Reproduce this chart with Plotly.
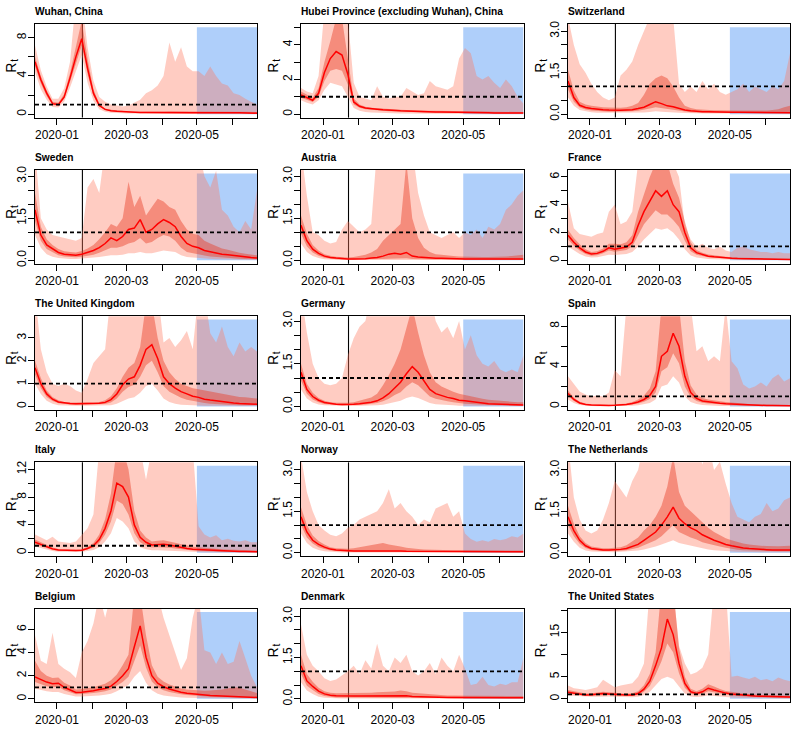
import plotly.graph_objects as go
import pandas as pd

W, H = 792, 733
DATES = pd.date_range("2019-12-13", "2020-06-22", periods=39)
X_START, X_END = "2019-12-13", "2020-06-22"
LOCKDOWN = "2020-01-23"
BLUE_START = "2020-05-01"
MONTH_TICKS = ["2020-01-01", "2020-03-01", "2020-05-01"]
MONTH_LABELS = ["2020-01", "2020-03", "2020-05"]
MONTH_MINOR = ["2020-02-01", "2020-04-01", "2020-06-01"]

TITLES = ["Wuhan, China", "Hubei Province (excluding Wuhan), China", "Switzerland",
          "Sweden", "Austria", "France",
          "The United Kingdom", "Germany", "Spain",
          "Italy", "Norway", "The Netherlands",
          "Belgium", "Denmark", "The United States"]

YMAX = [9.1, 5.0, 3.14, 3.1, 3.1, 6.25, 3.8, 3.05, 8.65, 12.5, 3.15, 3.15, 7.5, 3.15, 19.6]
# labelled ticks
YTICKS = [[0, 4, 8], [0, 2, 4], [0, 1.5, 3],
          [0, 1.5, 3], [0, 1.5, 3], [0, 2, 4, 6],
          [0, 1, 2, 3], [0, 1.5, 3], [0, 4, 8],
          [0, 4, 8, 12], [0, 1.5, 3], [0, 1.5, 3],
          [0, 2, 4, 6], [0, 1.5, 3], [0, 5, 15]]
YLABELS = [["0", "4", "8"], ["0", "2", "4"], ["0.0", "1.5", "3.0"],
           ["0.0", "1.5", "3.0"], ["0.0", "1.5", "3.0"], ["0", "2", "4", "6"],
           ["0", "1", "2", "3"], ["0.0", "1.5", "3.0"], ["0", "4", "8"],
           ["0", "4", "8", "12"], ["0.0", "1.5", "3.0"], ["0.0", "1.5", "3.0"],
           ["0", "2", "4", "6"], ["0.0", "1.5", "3.0"], ["0", "5", "15"]]
# unlabelled ticks
MINOR_30 = [0.5, 1, 2, 2.5]
YMINOR = [[2, 6], [1, 3, 5], MINOR_30,
          MINOR_30, MINOR_30, [1, 3, 5],
          [], MINOR_30, [2, 6],
          [2, 6, 10], MINOR_30, MINOR_30,
          [], MINOR_30, [10, 20]]

# ---------------- Wuhan ----------------
med_wuhan = [5.5, 3.6, 2.2, 1.1, 1.0, 1.8, 3.8, 6.0, 7.9, 4.8, 2.2, 0.9, 0.5, 0.35, 0.3, 0.25, 0.2, 0.18, 0.17, 0.16, 0.15, 0.15, 0.14, 0.14, 0.13, 0.14, 0.14, 0.15, 0.15, 0.16, 0.15, 0.15, 0.14, 0.14, 0.15, 0.14, 0.13, 0.12, 0.1]
lo50_wuhan = [5.0, 3.2, 1.9, 0.95, 0.9, 1.6, 3.4, 5.4, 7.2, 4.2, 1.9, 0.8, 0.43, 0.3, 0.25, 0.2, 0.16, 0.14, 0.13, 0.12, 0.11, 0.11, 0.1, 0.1, 0.1, 0.1, 0.1, 0.1, 0.1, 0.1, 0.1, 0.1, 0.09, 0.09, 0.09, 0.09, 0.08, 0.07, 0.06]
hi50_wuhan = [6.0, 4.0, 2.5, 1.3, 1.2, 2.1, 4.3, 7.0, 9.8, 5.8, 2.6, 1.1, 0.6, 0.45, 0.38, 0.32, 0.28, 0.26, 0.25, 0.25, 0.25, 0.26, 0.27, 0.3, 0.3, 0.32, 0.3, 0.3, 0.32, 0.33, 0.32, 0.3, 0.3, 0.3, 0.28, 0.26, 0.25, 0.24, 0.22]
lo95_wuhan = [4.4, 2.6, 1.5, 0.75, 0.7, 1.3, 2.8, 4.5, 6.2, 3.3, 1.4, 0.5, 0.25, 0.15, 0.1, 0.08, 0.07, 0.06, 0.05, 0.05, 0.05, 0.04, 0.04, 0.04, 0.04, 0.04, 0.04, 0.04, 0.04, 0.04, 0.04, 0.04, 0.04, 0.04, 0.04, 0.03, 0.03, 0.03, 0.03]
hi95_wuhan = [7.2, 4.6, 2.9, 1.6, 1.6, 2.7, 5.5, 12, 12, 7.0, 3.5, 1.8, 1.3, 1.0, 0.9, 0.8, 0.9, 1.2, 1.5, 2.2, 2.5, 3.0, 4.0, 7.5, 5.5, 7.0, 5.0, 4.5, 4.5, 4.0, 5.0, 4.0, 3.2, 3.0, 2.2, 2.0, 1.6, 1.3, 1.0]

# ---------------- Hubei ----------------
med_hubei = [1.1, 0.95, 0.8, 1.2, 2.4, 3.2, 3.6, 3.4, 2.3, 0.7, 0.45, 0.35, 0.3, 0.28, 0.25, 0.22, 0.2, 0.19, 0.18, 0.16, 0.15, 0.14, 0.13, 0.12, 0.12, 0.11, 0.1, 0.1, 0.09, 0.09, 0.08, 0.08, 0.08, 0.07, 0.07, 0.06, 0.06, 0.06, 0.06]
lo50_hubei = [0.95, 0.82, 0.7, 1.0, 1.9, 2.5, 2.6, 2.5, 1.7, 0.55, 0.37, 0.28, 0.24, 0.22, 0.2, 0.17, 0.15, 0.14, 0.13, 0.12, 0.11, 0.1, 0.09, 0.08, 0.08, 0.07, 0.07, 0.06, 0.06, 0.05, 0.05, 0.05, 0.05, 0.04, 0.04, 0.04, 0.04, 0.04, 0.03]
hi50_hubei = [1.3, 1.1, 0.95, 1.5, 3.0, 4.2, 5.5, 5.5, 3.2, 0.9, 0.55, 0.43, 0.37, 0.34, 0.31, 0.28, 0.26, 0.25, 0.24, 0.22, 0.21, 0.2, 0.2, 0.19, 0.19, 0.18, 0.17, 0.17, 0.16, 0.16, 0.15, 0.15, 0.15, 0.14, 0.14, 0.13, 0.13, 0.12, 0.12]
lo95_hubei = [0.8, 0.65, 0.55, 0.8, 1.4, 1.8, 1.7, 1.6, 1.0, 0.35, 0.2, 0.12, 0.1, 0.08, 0.07, 0.06, 0.05, 0.04, 0.04, 0.03, 0.03, 0.03, 0.03, 0.02, 0.02, 0.02, 0.02, 0.02, 0.02, 0.02, 0.02, 0.02, 0.02, 0.02, 0.02, 0.02, 0.02, 0.02, 0.02]
hi95_hubei = [1.5, 1.3, 1.2, 2.2, 6, 7, 7, 7, 5.5, 1.8, 1.0, 0.9, 0.8, 1.6, 1.0, 0.9, 1.0, 1.0, 1.5, 1.3, 1.1, 1.2, 1.9, 1.6, 1.5, 1.4, 1.6, 3.2, 3.8, 3.5, 2.2, 2.0, 2.2, 1.8, 1.5, 2.0, 1.6, 1.0, 0.6]

# ---------------- Switzerland ----------------
med_swi = [1.2, 0.6, 0.32, 0.24, 0.2, 0.17, 0.16, 0.15, 0.14, 0.14, 0.15, 0.16, 0.2, 0.25, 0.35, 0.45, 0.38, 0.3, 0.27, 0.2, 0.15, 0.12, 0.1, 0.09, 0.09, 0.08, 0.08, 0.08, 0.07, 0.07, 0.07, 0.06, 0.06, 0.06, 0.06, 0.06, 0.06, 0.05, 0.05]
lo50_swi = [0.9, 0.45, 0.24, 0.17, 0.13, 0.11, 0.1, 0.09, 0.09, 0.09, 0.1, 0.1, 0.12, 0.15, 0.2, 0.25, 0.22, 0.18, 0.16, 0.12, 0.09, 0.07, 0.06, 0.05, 0.05, 0.05, 0.05, 0.04, 0.04, 0.04, 0.04, 0.04, 0.04, 0.03, 0.03, 0.03, 0.03, 0.03, 0.03]
hi50_swi = [1.6, 0.85, 0.45, 0.35, 0.3, 0.27, 0.25, 0.24, 0.23, 0.23, 0.25, 0.3, 0.4, 0.7, 1.1, 1.3, 1.4, 1.3, 1.0, 0.6, 0.3, 0.22, 0.18, 0.16, 0.15, 0.14, 0.14, 0.13, 0.13, 0.13, 0.13, 0.13, 0.12, 0.12, 0.13, 0.15, 0.18, 0.25, 0.3]
lo95_swi = [0.6, 0.3, 0.15, 0.1, 0.07, 0.05, 0.05, 0.04, 0.04, 0.04, 0.04, 0.04, 0.05, 0.06, 0.08, 0.1, 0.09, 0.07, 0.06, 0.05, 0.04, 0.03, 0.03, 0.02, 0.02, 0.02, 0.02, 0.02, 0.02, 0.02, 0.02, 0.02, 0.02, 0.02, 0.02, 0.02, 0.02, 0.02, 0.02]
hi95_swi = [3.5, 2.5, 1.8, 1.5, 1.1, 0.8, 0.6, 0.5, 0.6, 1.4, 1.6, 1.9, 2.5, 3.0, 3.5, 4, 4, 4, 3.5, 1.1, 0.8, 1.0, 0.8, 1.2, 0.9, 1.1, 0.8, 0.7, 0.8, 0.9, 1.1, 0.8, 1.0, 0.9, 0.8, 1.0, 0.9, 1.2, 2.2]

# ---------------- Sweden ----------------
med_swe = [1.8, 0.9, 0.55, 0.4, 0.28, 0.22, 0.2, 0.18, 0.22, 0.28, 0.35, 0.45, 0.6, 0.8, 0.7, 0.85, 1.1, 1.15, 1.45, 1.0, 1.1, 1.3, 1.45, 1.35, 1.2, 0.85, 0.6, 0.5, 0.45, 0.35, 0.3, 0.25, 0.22, 0.2, 0.17, 0.14, 0.12, 0.1, 0.08]
lo50_swe = [1.4, 0.7, 0.4, 0.28, 0.18, 0.14, 0.12, 0.11, 0.13, 0.17, 0.2, 0.27, 0.35, 0.45, 0.45, 0.5, 0.6, 0.65, 0.8, 0.6, 0.65, 0.8, 0.9, 0.85, 0.7, 0.45, 0.3, 0.25, 0.2, 0.17, 0.14, 0.12, 0.1, 0.09, 0.08, 0.06, 0.05, 0.05, 0.04]
hi50_swe = [2.4, 1.2, 0.75, 0.55, 0.4, 0.32, 0.3, 0.28, 0.33, 0.42, 0.55, 0.75, 1.0, 1.3, 1.2, 1.5, 2.8, 1.9, 2.3, 1.6, 1.9, 2.2, 2.1, 1.9, 1.8, 1.4, 1.1, 0.95, 0.9, 0.7, 0.6, 0.5, 0.42, 0.38, 0.32, 0.27, 0.23, 0.2, 0.18]
lo95_swe = [0.9, 0.45, 0.22, 0.13, 0.08, 0.06, 0.05, 0.05, 0.06, 0.08, 0.1, 0.12, 0.15, 0.18, 0.18, 0.2, 0.25, 0.25, 0.3, 0.25, 0.25, 0.3, 0.35, 0.32, 0.3, 0.18, 0.12, 0.1, 0.08, 0.06, 0.05, 0.04, 0.04, 0.03, 0.03, 0.03, 0.02, 0.02, 0.02]
hi95_swe = [4, 1.5, 1.1, 0.9, 0.85, 0.8, 0.75, 0.7, 0.8, 2.6, 2.9, 2.4, 4, 4, 4, 4, 4, 4, 4, 4, 4, 4, 4, 4, 4, 4, 4, 4, 4, 3.0, 2.6, 3.2, 1.8, 1.6, 1.2, 1.0, 1.4, 1.1, 2.5]

# ---------------- Austria ----------------
med_aut = [1.25, 0.7, 0.4, 0.25, 0.15, 0.1, 0.08, 0.06, 0.05, 0.05, 0.05, 0.06, 0.08, 0.1, 0.15, 0.22, 0.25, 0.22, 0.28, 0.15, 0.12, 0.1, 0.08, 0.07, 0.07, 0.06, 0.06, 0.05, 0.05, 0.05, 0.05, 0.05, 0.05, 0.05, 0.05, 0.05, 0.05, 0.05, 0.05]
lo50_aut = [0.95, 0.5, 0.28, 0.16, 0.09, 0.06, 0.04, 0.03, 0.03, 0.03, 0.03, 0.03, 0.03, 0.04, 0.05, 0.06, 0.07, 0.06, 0.07, 0.05, 0.04, 0.04, 0.03, 0.03, 0.03, 0.03, 0.03, 0.02, 0.02, 0.02, 0.02, 0.02, 0.02, 0.02, 0.02, 0.02, 0.02, 0.02, 0.02]
hi50_aut = [1.6, 0.95, 0.55, 0.35, 0.22, 0.16, 0.13, 0.11, 0.1, 0.12, 0.15, 0.2, 0.28, 0.4, 0.7, 0.9, 1.1, 1.3, 3.5, 1.5, 0.8, 0.45, 0.3, 0.22, 0.2, 0.17, 0.15, 0.14, 0.13, 0.12, 0.12, 0.12, 0.12, 0.12, 0.13, 0.14, 0.15, 0.18, 0.2]
lo95_aut = [0.6, 0.3, 0.15, 0.08, 0.04, 0.02, 0.02, 0.01, 0.01, 0.01, 0.01, 0.01, 0.01, 0.01, 0.01, 0.02, 0.02, 0.02, 0.02, 0.01, 0.01, 0.01, 0.01, 0.01, 0.01, 0.01, 0.01, 0.01, 0.01, 0.01, 0.01, 0.01, 0.01, 0.01, 0.01, 0.01, 0.01, 0.01, 0.01]
hi95_aut = [4, 2.3, 1.0, 0.9, 0.7, 0.6, 0.65, 1.1, 1.4, 1.2, 1.0, 1.1, 1.3, 4, 4, 4, 4, 4, 4, 4, 2.4, 1.6, 1.0, 0.9, 0.8, 0.9, 1.0, 0.8, 1.0, 0.9, 1.1, 0.8, 1.2, 1.1, 1.3, 1.8, 2.0, 2.3, 2.5]

# ---------------- France ----------------
med_fra = [1.8, 1.3, 0.9, 0.6, 0.45, 0.5, 0.65, 0.9, 0.8, 0.85, 0.95, 1.3, 2.5, 3.5, 4.2, 5.0, 4.6, 5.0, 4.0, 3.5, 2.0, 0.9, 0.55, 0.4, 0.3, 0.25, 0.2, 0.18, 0.15, 0.13, 0.12, 0.11, 0.1, 0.09, 0.08, 0.08, 0.07, 0.06, 0.06]
lo50_fra = [1.5, 1.05, 0.7, 0.45, 0.33, 0.37, 0.5, 0.7, 0.62, 0.68, 0.75, 1.0, 1.8, 2.6, 3.1, 3.6, 3.3, 3.3, 2.9, 2.4, 1.4, 0.65, 0.4, 0.3, 0.22, 0.18, 0.15, 0.13, 0.11, 0.09, 0.08, 0.07, 0.07, 0.06, 0.05, 0.05, 0.04, 0.04, 0.04]
hi50_fra = [2.2, 1.6, 1.15, 0.8, 0.6, 0.65, 0.85, 1.2, 1.2, 1.15, 1.3, 1.8, 3.5, 4.8, 6.0, 7, 7, 7, 5.5, 4.5, 2.8, 1.3, 0.75, 0.55, 0.42, 0.35, 0.3, 0.26, 0.22, 0.2, 0.18, 0.17, 0.16, 0.15, 0.14, 0.13, 0.12, 0.12, 0.12]
lo95_fra = [1.0, 0.7, 0.45, 0.28, 0.2, 0.22, 0.3, 0.4, 0.38, 0.4, 0.45, 0.6, 1.0, 1.5, 1.9, 2.3, 2.2, 2.3, 2.0, 1.5, 0.8, 0.35, 0.2, 0.13, 0.1, 0.08, 0.06, 0.05, 0.04, 0.04, 0.03, 0.03, 0.03, 0.03, 0.02, 0.02, 0.02, 0.02, 0.02]
hi95_fra = [4.2, 2.3, 1.9, 1.8, 1.7, 1.9, 2.0, 3.5, 4.0, 2.6, 2.8, 3.5, 7, 7, 7, 7, 7, 7, 7, 6, 2.5, 1.5, 1.0, 1.2, 0.9, 0.8, 1.0, 0.7, 0.6, 0.9, 1.0, 0.8, 0.7, 0.6, 0.6, 0.5, 0.6, 0.5, 0.5]

# ---------------- United Kingdom ----------------
med_uk = [1.7, 1.0, 0.55, 0.32, 0.2, 0.15, 0.13, 0.12, 0.12, 0.12, 0.12, 0.14, 0.18, 0.3, 0.55, 0.95, 1.2, 1.3, 1.8, 2.5, 2.7, 2.1, 1.3, 1.0, 0.8, 0.65, 0.55, 0.45, 0.4, 0.32, 0.28, 0.24, 0.2, 0.17, 0.15, 0.13, 0.12, 0.11, 0.1]
lo50_uk = [1.4, 0.8, 0.42, 0.24, 0.14, 0.1, 0.09, 0.08, 0.08, 0.08, 0.08, 0.09, 0.11, 0.18, 0.35, 0.65, 0.85, 0.95, 1.3, 1.8, 2.0, 1.5, 0.9, 0.65, 0.5, 0.38, 0.3, 0.24, 0.2, 0.15, 0.12, 0.1, 0.09, 0.08, 0.07, 0.06, 0.05, 0.05, 0.05]
hi50_uk = [2.0, 1.25, 0.7, 0.42, 0.27, 0.2, 0.18, 0.17, 0.17, 0.17, 0.17, 0.2, 0.27, 0.45, 0.8, 1.3, 1.7, 1.9, 2.6, 4.5, 4.5, 3.0, 2.0, 1.5, 1.2, 1.0, 0.9, 0.8, 0.75, 0.7, 0.65, 0.6, 0.55, 0.5, 0.45, 0.42, 0.4, 0.38, 0.35]
lo95_uk = [1.0, 0.55, 0.25, 0.12, 0.06, 0.04, 0.03, 0.03, 0.03, 0.03, 0.03, 0.03, 0.04, 0.06, 0.12, 0.25, 0.35, 0.4, 0.6, 0.9, 1.0, 0.7, 0.35, 0.2, 0.12, 0.08, 0.06, 0.05, 0.04, 0.03, 0.03, 0.03, 0.03, 0.03, 0.03, 0.03, 0.03, 0.03, 0.03]
hi95_uk = [5, 2.5, 1.5, 1.0, 0.9, 1.0, 0.9, 0.7, 0.6, 1.2, 1.9, 2.2, 2.5, 5, 5, 5, 5, 5, 5, 5, 5, 5, 2.8, 3.0, 2.6, 2.9, 3.3, 2.5, 5, 5, 3.2, 2.8, 3.5, 2.6, 2.2, 2.8, 2.4, 2.6, 2.4]

# ---------------- Germany ----------------
med_ger = [1.2, 0.6, 0.35, 0.22, 0.14, 0.1, 0.08, 0.07, 0.07, 0.08, 0.1, 0.12, 0.15, 0.2, 0.3, 0.45, 0.65, 0.85, 1.15, 1.4, 1.2, 0.9, 0.6, 0.45, 0.38, 0.32, 0.28, 0.22, 0.2, 0.17, 0.14, 0.12, 0.1, 0.09, 0.08, 0.07, 0.06, 0.06, 0.05]
lo50_ger = [0.9, 0.45, 0.25, 0.15, 0.09, 0.06, 0.05, 0.04, 0.04, 0.05, 0.06, 0.07, 0.09, 0.12, 0.18, 0.27, 0.4, 0.5, 0.7, 0.85, 0.75, 0.55, 0.35, 0.27, 0.22, 0.18, 0.15, 0.12, 0.1, 0.09, 0.07, 0.06, 0.05, 0.05, 0.04, 0.04, 0.03, 0.03, 0.03]
hi50_ger = [1.5, 0.8, 0.48, 0.3, 0.2, 0.15, 0.13, 0.12, 0.13, 0.15, 0.2, 0.25, 0.32, 0.45, 0.75, 1.1, 1.5, 2.0, 2.8, 3.5, 2.6, 1.8, 1.2, 0.85, 0.7, 0.6, 0.52, 0.45, 0.4, 0.35, 0.3, 0.27, 0.24, 0.22, 0.2, 0.18, 0.16, 0.15, 0.15]
lo95_ger = [0.6, 0.28, 0.14, 0.07, 0.04, 0.03, 0.02, 0.02, 0.02, 0.02, 0.02, 0.02, 0.03, 0.04, 0.06, 0.1, 0.15, 0.2, 0.3, 0.35, 0.3, 0.2, 0.12, 0.08, 0.06, 0.05, 0.04, 0.03, 0.03, 0.02, 0.02, 0.02, 0.02, 0.02, 0.02, 0.02, 0.02, 0.02, 0.02]
hi95_ger = [4, 2.6, 1.5, 1.0, 0.8, 0.75, 0.8, 1.0, 1.8, 2.4, 2.8, 3.0, 4, 4, 4, 4, 4, 4, 4, 4, 4, 4, 4, 3.0, 2.6, 2.8, 2.4, 3.0, 2.0, 2.5, 1.8, 1.5, 1.4, 1.6, 1.3, 1.2, 1.3, 1.2, 1.8]

# ---------------- Spain ----------------
med_spa = [1.3, 0.7, 0.35, 0.2, 0.15, 0.12, 0.11, 0.11, 0.12, 0.14, 0.2, 0.3, 0.45, 0.7, 1.1, 2.0, 5.0, 5.5, 7.3, 6.0, 3.0, 1.4, 0.8, 0.55, 0.45, 0.38, 0.32, 0.28, 0.25, 0.2, 0.16, 0.14, 0.12, 0.11, 0.1, 0.09, 0.08, 0.08, 0.07]
lo50_spa = [1.05, 0.55, 0.26, 0.14, 0.1, 0.08, 0.07, 0.07, 0.08, 0.09, 0.13, 0.2, 0.3, 0.48, 0.75, 1.4, 3.5, 3.9, 5.3, 4.3, 2.0, 0.95, 0.55, 0.38, 0.3, 0.25, 0.21, 0.18, 0.15, 0.12, 0.1, 0.09, 0.08, 0.07, 0.06, 0.05, 0.05, 0.05, 0.04]
hi50_spa = [1.6, 0.9, 0.48, 0.3, 0.22, 0.18, 0.17, 0.17, 0.19, 0.22, 0.3, 0.45, 0.7, 1.1, 1.8, 3.5, 10, 10, 10, 10, 4.5, 2.1, 1.2, 0.85, 0.7, 0.6, 0.5, 0.45, 0.4, 0.33, 0.28, 0.25, 0.22, 0.2, 0.18, 0.17, 0.16, 0.15, 0.15]
lo95_spa = [0.7, 0.35, 0.15, 0.07, 0.04, 0.03, 0.03, 0.03, 0.03, 0.03, 0.05, 0.07, 0.12, 0.2, 0.35, 0.7, 2.0, 2.2, 3.0, 2.4, 1.0, 0.45, 0.25, 0.15, 0.1, 0.08, 0.06, 0.05, 0.04, 0.04, 0.03, 0.03, 0.03, 0.03, 0.03, 0.03, 0.03, 0.03, 0.03]
hi95_spa = [3.0, 2.2, 1.5, 1.2, 1.0, 1.1, 1.0, 1.4, 3.6, 3.0, 10, 10, 10, 10, 10, 10, 10, 10, 10, 10, 10, 10, 5.5, 6.0, 4.5, 5.0, 4.5, 10, 4.5, 3.8, 2.2, 1.8, 2.0, 2.4, 2.0, 2.8, 3.2, 2.5, 2.8]

# ---------------- Italy ----------------
med_ita = [1.5, 1.2, 0.8, 0.55, 0.38, 0.32, 0.3, 0.3, 0.35, 0.6, 1.0, 1.9, 3.5, 6.0, 10.0, 9.5, 8.0, 4.0, 2.2, 1.5, 1.1, 1.2, 1.2, 1.1, 0.9, 0.75, 0.6, 0.5, 0.45, 0.38, 0.33, 0.3, 0.26, 0.23, 0.2, 0.18, 0.16, 0.15, 0.13]
lo50_ita = [1.2, 0.95, 0.6, 0.4, 0.27, 0.22, 0.2, 0.2, 0.24, 0.42, 0.7, 1.4, 2.6, 4.5, 7.5, 7.0, 5.5, 2.8, 1.5, 1.0, 0.75, 0.8, 0.8, 0.7, 0.6, 0.48, 0.38, 0.3, 0.27, 0.22, 0.19, 0.17, 0.15, 0.13, 0.11, 0.1, 0.09, 0.08, 0.07]
hi50_ita = [1.9, 1.5, 1.05, 0.75, 0.52, 0.45, 0.42, 0.43, 0.5, 0.85, 1.4, 2.6, 4.8, 8.5, 15, 15, 12, 6.0, 3.2, 2.2, 1.6, 1.7, 1.8, 1.6, 1.4, 1.2, 1.0, 0.85, 0.8, 0.7, 0.62, 0.55, 0.5, 0.45, 0.4, 0.38, 0.35, 0.33, 0.3]
lo95_ita = [0.9, 0.65, 0.4, 0.25, 0.15, 0.12, 0.1, 0.1, 0.13, 0.25, 0.4, 0.8, 1.6, 2.8, 5.0, 4.5, 3.5, 1.6, 0.8, 0.5, 0.35, 0.35, 0.35, 0.3, 0.25, 0.2, 0.15, 0.12, 0.1, 0.08, 0.07, 0.06, 0.05, 0.05, 0.04, 0.04, 0.04, 0.03, 0.03]
hi95_ita = [2.6, 2.2, 1.8, 2.3, 1.6, 1.5, 1.4, 1.6, 2.5, 3.5, 5.5, 15, 15, 15, 15, 15, 15, 15, 15, 10.5, 15, 15, 15, 15, 15, 15, 15, 15, 3.8, 2.6, 2.2, 2.5, 1.8, 2.0, 1.7, 1.6, 1.8, 1.5, 1.5]

# ---------------- Norway ----------------
med_nor = [1.3, 0.75, 0.45, 0.3, 0.2, 0.13, 0.1, 0.08, 0.07, 0.06, 0.06, 0.06, 0.06, 0.07, 0.08, 0.07, 0.06, 0.06, 0.05, 0.05, 0.05, 0.05, 0.05, 0.05, 0.04, 0.04, 0.04, 0.04, 0.04, 0.04, 0.04, 0.04, 0.03, 0.03, 0.03, 0.03, 0.03, 0.03, 0.03]
lo50_nor = [1.0, 0.55, 0.33, 0.2, 0.13, 0.08, 0.06, 0.04, 0.03, 0.03, 0.03, 0.03, 0.03, 0.03, 0.03, 0.03, 0.03, 0.03, 0.02, 0.02, 0.02, 0.02, 0.02, 0.02, 0.02, 0.02, 0.02, 0.02, 0.02, 0.02, 0.02, 0.02, 0.01, 0.01, 0.01, 0.01, 0.01, 0.01, 0.01]
hi50_nor = [1.65, 1.0, 0.62, 0.42, 0.3, 0.2, 0.16, 0.14, 0.14, 0.16, 0.2, 0.25, 0.28, 0.32, 0.35, 0.3, 0.25, 0.22, 0.18, 0.15, 0.13, 0.12, 0.11, 0.1, 0.1, 0.09, 0.09, 0.09, 0.09, 0.08, 0.08, 0.08, 0.08, 0.08, 0.08, 0.08, 0.08, 0.08, 0.08]
lo95_nor = [0.7, 0.35, 0.18, 0.1, 0.05, 0.03, 0.02, 0.01, 0.01, 0.01, 0.01, 0.01, 0.01, 0.01, 0.01, 0.01, 0.01, 0.01, 0.01, 0.01, 0.01, 0.01, 0.01, 0.01, 0.01, 0.01, 0.01, 0.01, 0.01, 0.01, 0.01, 0.01, 0.01, 0.01, 0.01, 0.01, 0.01, 0.01, 0.01]
hi95_nor = [3.5, 2.2, 1.5, 1.0, 0.8, 0.65, 0.6, 0.7, 0.9, 1.0, 1.2, 1.3, 1.4, 1.5, 1.8, 2.3, 1.6, 1.8, 1.5, 1.3, 1.0, 1.2, 1.1, 1.6, 1.7, 1.8, 1.3, 1.5, 0.7, 0.5, 0.4, 0.45, 0.4, 0.5, 0.45, 0.5, 0.6, 0.55, 0.7]

# ---------------- Netherlands ----------------
med_ned = [1.3, 0.8, 0.45, 0.25, 0.15, 0.12, 0.1, 0.1, 0.1, 0.12, 0.15, 0.22, 0.3, 0.45, 0.6, 0.75, 1.0, 1.3, 1.65, 1.25, 1.05, 0.9, 0.8, 0.65, 0.55, 0.45, 0.38, 0.3, 0.25, 0.2, 0.17, 0.15, 0.13, 0.12, 0.11, 0.1, 0.1, 0.1, 0.1]
lo50_ned = [1.0, 0.6, 0.32, 0.17, 0.1, 0.07, 0.06, 0.06, 0.06, 0.07, 0.09, 0.13, 0.18, 0.27, 0.35, 0.45, 0.6, 0.8, 1.0, 0.75, 0.65, 0.55, 0.48, 0.38, 0.32, 0.26, 0.22, 0.18, 0.14, 0.11, 0.09, 0.08, 0.07, 0.06, 0.06, 0.05, 0.05, 0.05, 0.05]
hi50_ned = [1.7, 1.05, 0.6, 0.35, 0.22, 0.18, 0.16, 0.16, 0.17, 0.2, 0.27, 0.4, 0.55, 0.8, 1.0, 1.3, 1.7, 2.4, 3.5, 2.2, 1.7, 1.5, 1.3, 1.1, 0.9, 0.75, 0.62, 0.52, 0.45, 0.38, 0.33, 0.3, 0.27, 0.25, 0.24, 0.23, 0.23, 0.24, 0.25]
lo95_ned = [0.7, 0.4, 0.18, 0.08, 0.04, 0.03, 0.02, 0.02, 0.02, 0.03, 0.04, 0.06, 0.08, 0.12, 0.17, 0.22, 0.3, 0.38, 0.45, 0.35, 0.3, 0.25, 0.22, 0.16, 0.12, 0.09, 0.07, 0.05, 0.04, 0.03, 0.03, 0.02, 0.02, 0.02, 0.02, 0.02, 0.02, 0.02, 0.02]
hi95_ned = [4, 2.0, 1.2, 0.8, 0.7, 0.8, 1.2, 1.8, 2.6, 2.3, 2.0, 2.6, 3.0, 4, 4, 4, 4, 4, 4, 4, 4, 4, 4, 3.2, 4, 3.0, 3.3, 2.5, 1.8, 1.3, 1.2, 1.1, 1.3, 1.4, 1.8, 1.5, 1.6, 1.9, 2.0]

# ---------------- Belgium ----------------
med_bel = [1.9, 1.65, 1.45, 1.3, 1.35, 1.0, 0.8, 0.55, 0.58, 0.62, 0.7, 0.8, 0.9, 1.1, 1.5, 2.0, 2.6, 4.5, 6.3, 3.6, 2.0, 1.35, 1.05, 0.85, 0.7, 0.58, 0.48, 0.42, 0.38, 0.33, 0.3, 0.27, 0.24, 0.21, 0.19, 0.17, 0.15, 0.13, 0.12]
lo50_bel = [1.45, 1.25, 1.1, 1.0, 1.05, 0.75, 0.6, 0.4, 0.42, 0.45, 0.5, 0.58, 0.65, 0.8, 1.1, 1.45, 1.9, 3.3, 4.6, 2.7, 1.5, 1.0, 0.75, 0.6, 0.48, 0.4, 0.33, 0.28, 0.25, 0.22, 0.19, 0.17, 0.15, 0.13, 0.11, 0.1, 0.09, 0.08, 0.07]
hi50_bel = [3.3, 2.4, 2.0, 1.8, 1.85, 1.4, 1.15, 0.8, 0.85, 0.9, 1.0, 1.15, 1.3, 1.6, 2.1, 2.9, 3.8, 9, 9, 5.5, 2.9, 1.9, 1.5, 1.25, 1.05, 0.9, 0.8, 0.75, 0.7, 0.7, 0.72, 0.75, 0.8, 0.9, 1.0, 0.95, 0.8, 0.6, 0.5]
lo95_bel = [0.9, 0.75, 0.65, 0.6, 0.6, 0.42, 0.32, 0.2, 0.2, 0.22, 0.25, 0.3, 0.35, 0.45, 0.65, 0.9, 1.2, 1.9, 2.4, 1.4, 0.75, 0.45, 0.3, 0.22, 0.15, 0.12, 0.1, 0.08, 0.07, 0.06, 0.05, 0.05, 0.05, 0.04, 0.04, 0.04, 0.03, 0.03, 0.03]
hi95_bel = [5.5, 3.3, 3.0, 5.7, 3.0, 2.6, 2.3, 1.8, 4.0, 5.0, 6.5, 9, 7, 9, 9, 9, 9, 9, 9, 9, 9, 9, 7.0, 5.5, 4.0, 2.5, 3.5, 7.0, 9, 4.2, 4.0, 3.0, 4.0, 3.0, 3.2, 5.0, 3.5, 2.0, 1.0]

# ---------------- Denmark ----------------
med_den = [1.2, 0.65, 0.45, 0.28, 0.18, 0.13, 0.11, 0.1, 0.1, 0.1, 0.1, 0.1, 0.1, 0.11, 0.11, 0.1, 0.11, 0.12, 0.11, 0.09, 0.08, 0.08, 0.07, 0.06, 0.06, 0.05, 0.05, 0.05, 0.05, 0.05, 0.05, 0.05, 0.04, 0.04, 0.04, 0.04, 0.04, 0.04, 0.04]
lo50_den = [0.9, 0.48, 0.32, 0.18, 0.1, 0.07, 0.05, 0.05, 0.05, 0.05, 0.05, 0.05, 0.05, 0.05, 0.05, 0.05, 0.05, 0.05, 0.05, 0.04, 0.04, 0.04, 0.03, 0.03, 0.03, 0.03, 0.02, 0.02, 0.02, 0.02, 0.02, 0.02, 0.02, 0.02, 0.02, 0.02, 0.02, 0.02, 0.02]
hi50_den = [1.6, 0.9, 0.62, 0.4, 0.28, 0.22, 0.2, 0.2, 0.2, 0.21, 0.22, 0.22, 0.22, 0.24, 0.25, 0.24, 0.27, 0.3, 0.28, 0.22, 0.2, 0.18, 0.16, 0.14, 0.13, 0.12, 0.12, 0.11, 0.11, 0.11, 0.11, 0.11, 0.1, 0.1, 0.1, 0.1, 0.1, 0.1, 0.1]
lo95_den = [0.6, 0.3, 0.18, 0.08, 0.04, 0.02, 0.02, 0.01, 0.01, 0.01, 0.01, 0.01, 0.01, 0.01, 0.01, 0.01, 0.01, 0.01, 0.01, 0.01, 0.01, 0.01, 0.01, 0.01, 0.01, 0.01, 0.01, 0.01, 0.01, 0.01, 0.01, 0.01, 0.01, 0.01, 0.01, 0.01, 0.01, 0.01, 0.01]
hi95_den = [2.7, 1.6, 1.2, 1.0, 0.75, 0.65, 0.7, 0.85, 1.0, 1.2, 0.9, 1.4, 1.1, 2.0, 1.2, 1.0, 1.5, 1.3, 1.6, 1.0, 0.85, 1.0, 1.3, 0.9, 1.5, 1.2, 1.0, 1.6, 1.1, 0.5, 0.55, 0.8, 0.5, 0.45, 0.55, 0.5, 0.6, 0.6, 1.5]

# ---------------- United States ----------------
med_usa = [1.5, 1.3, 1.1, 0.9, 0.95, 1.05, 1.2, 1.1, 1.0, 0.9, 0.85, 0.9, 1.2, 2.2, 4.0, 7.5, 11.5, 18.0, 14.5, 8.0, 3.5, 1.6, 1.2, 1.6, 2.4, 2.0, 1.6, 1.3, 1.1, 0.95, 0.85, 0.75, 0.65, 0.6, 0.55, 0.5, 0.45, 0.42, 0.4]
lo50_usa = [1.15, 1.0, 0.85, 0.68, 0.72, 0.8, 0.9, 0.85, 0.75, 0.68, 0.62, 0.65, 0.85, 1.6, 2.9, 5.5, 8.5, 12.5, 10.5, 5.8, 2.5, 1.15, 0.85, 1.15, 1.7, 1.45, 1.15, 0.9, 0.75, 0.65, 0.55, 0.48, 0.42, 0.38, 0.34, 0.3, 0.27, 0.25, 0.23]
hi50_usa = [2.0, 1.7, 1.45, 1.2, 1.25, 1.4, 1.6, 1.5, 1.35, 1.2, 1.15, 1.25, 1.7, 3.1, 5.6, 10.5, 25, 25, 25, 11.5, 5.0, 2.3, 1.7, 2.3, 3.3, 2.8, 2.2, 1.8, 1.55, 1.35, 1.2, 1.1, 0.95, 0.9, 0.85, 0.8, 0.75, 0.72, 0.7]
lo95_usa = [0.75, 0.65, 0.55, 0.42, 0.45, 0.5, 0.55, 0.52, 0.45, 0.4, 0.37, 0.38, 0.5, 0.9, 1.6, 3.0, 4.5, 5.0, 4.5, 2.8, 1.2, 0.55, 0.4, 0.55, 0.8, 0.65, 0.5, 0.4, 0.32, 0.26, 0.22, 0.18, 0.16, 0.14, 0.12, 0.11, 0.1, 0.09, 0.09]
hi95_usa = [3.0, 2.4, 2.2, 2.0, 2.3, 2.6, 4.3, 3.5, 2.6, 3.0, 3.3, 3.5, 5.0, 8.0, 25, 25, 25, 25, 25, 12, 8.0, 5.5, 6.0, 7.0, 10, 25, 25, 25, 5.0, 5.2, 4.8, 4.5, 5.0, 4.2, 4.5, 4.0, 4.8, 4.3, 4.0]

SERIES = [
    (med_wuhan, lo50_wuhan, hi50_wuhan, lo95_wuhan, hi95_wuhan),
    (med_hubei, lo50_hubei, hi50_hubei, lo95_hubei, hi95_hubei),
    (med_swi, lo50_swi, hi50_swi, lo95_swi, hi95_swi),
    (med_swe, lo50_swe, hi50_swe, lo95_swe, hi95_swe),
    (med_aut, lo50_aut, hi50_aut, lo95_aut, hi95_aut),
    (med_fra, lo50_fra, hi50_fra, lo95_fra, hi95_fra),
    (med_uk, lo50_uk, hi50_uk, lo95_uk, hi95_uk),
    (med_ger, lo50_ger, hi50_ger, lo95_ger, hi95_ger),
    (med_spa, lo50_spa, hi50_spa, lo95_spa, hi95_spa),
    (med_ita, lo50_ita, hi50_ita, lo95_ita, hi95_ita),
    (med_nor, lo50_nor, hi50_nor, lo95_nor, hi95_nor),
    (med_ned, lo50_ned, hi50_ned, lo95_ned, hi95_ned),
    (med_bel, lo50_bel, hi50_bel, lo95_bel, hi95_bel),
    (med_den, lo50_den, hi50_den, lo95_den, hi95_den),
    (med_usa, lo50_usa, hi50_usa, lo95_usa, hi95_usa),
]

# ---------------- styling / layout ----------------
COLS = [(35, 257), (301, 523.5), (568, 790)]
RT_X = [11, 273, 540]
ROW_TOPS = [18, 166, 314, 462, 610]
PANEL_H = 95
LIGHT = "rgba(255,120,95,0.38)"
DARK = "rgba(233,62,40,0.45)"
BLUE = "rgb(175,207,250)"
FAMILY = "Liberation Sans, Arial, sans-serif"
TICK_FONT = dict(family=FAMILY, size=12, color="black")
TITLE_FONT = dict(family=FAMILY, size=10.2, color="black", weight="bold")

fig = go.Figure()
layout = dict(width=W, height=H, margin=dict(l=0, r=0, t=0, b=0),
              paper_bgcolor="white", plot_bgcolor="white", showlegend=False)
shapes, annotations = [], []

for k, (med, lo50, hi50, lo95, hi95) in enumerate(SERIES):
    n = k + 1
    r, c = divmod(k, 3)
    x0p, x1p = COLS[c]
    top = ROW_TOPS[r]
    bot = top + PANEL_H
    sfx = "" if n == 1 else str(n)
    xa, ya = "x" + sfx, "y" + sfx
    M = YMAX[k]

    fig.add_trace(go.Scatter(x=DATES, y=lo95, mode="lines", line=dict(width=0),
                             xaxis=xa, yaxis=ya, hoverinfo="skip"))
    fig.add_trace(go.Scatter(x=DATES, y=hi95, mode="lines", line=dict(width=0),
                             fill="tonexty", fillcolor=LIGHT, xaxis=xa, yaxis=ya, hoverinfo="skip"))
    fig.add_trace(go.Scatter(x=DATES, y=lo50, mode="lines", line=dict(width=0),
                             xaxis=xa, yaxis=ya, hoverinfo="skip"))
    fig.add_trace(go.Scatter(x=DATES, y=hi50, mode="lines", line=dict(width=0),
                             fill="tonexty", fillcolor=DARK, xaxis=xa, yaxis=ya, hoverinfo="skip"))
    fig.add_trace(go.Scatter(x=DATES, y=med, mode="lines", line=dict(color="#ff0000", width=1.5),
                             xaxis=xa, yaxis=ya))

    axis_common = dict(showgrid=False, zeroline=False, showline=True, mirror=True,
                       linecolor="black", linewidth=1, ticks="outside", ticklen=6,
                       tickcolor="black", tickwidth=1, tickfont=TICK_FONT)
    layout["xaxis" + sfx] = dict(axis_common, type="date", range=[X_START, X_END],
                                 domain=[x0p / W, x1p / W], anchor=ya,
                                 tickmode="array", tickvals=MONTH_TICKS, ticktext=MONTH_LABELS,
                                 minor=dict(tickmode="array", tickvals=MONTH_MINOR, ticks="outside",
                                            ticklen=6, tickcolor="black", tickwidth=1, showgrid=False),
                                 ticklabelstandoff=0)
    layout["yaxis" + sfx] = dict(axis_common, range=[-0.04 * M, 1.04 * M],
                                 domain=[1 - bot / H, 1 - top / H], anchor=xa,
                                 tickmode="array", tickvals=YTICKS[k], ticktext=YLABELS[k],
                                 minor=dict(tickmode="array", tickvals=YMINOR[k], ticks="outside",
                                            ticklen=6, tickcolor="black", tickwidth=1, showgrid=False),
                                 tickangle=-90, ticklabelstandoff=-3)

    shapes.append(dict(type="rect", xref=xa, yref=ya, x0=BLUE_START, x1=X_END, y0=0, y1=M,
                       fillcolor=BLUE, line=dict(width=0), layer="below"))
    shapes.append(dict(type="line", xref=xa, yref=ya + " domain", x0=LOCKDOWN, x1=LOCKDOWN,
                       y0=0, y1=1, line=dict(color="black", width=1.1), layer="below"))
    shapes.append(dict(type="line", xref=xa + " domain", yref=ya, x0=0, x1=1, y0=1, y1=1,
                       line=dict(color="black", width=1.8, dash="4px,3px"), layer="above"))

    annotations.append(dict(text=TITLES[k], xref="paper", yref="paper",
                            x=(x0p - 2) / W, y=1 - (top - 5) / H, xanchor="left", yanchor="bottom",
                            showarrow=False, font=TITLE_FONT))
    ymid = top + PANEL_H / 2
    annotations.append(dict(text="R", xref="paper", yref="paper",
                            x=RT_X[c] / W, y=1 - (ymid - 3) / H,
                            xanchor="center", yanchor="middle", textangle=-90,
                            showarrow=False, font=dict(family=FAMILY, size=14, color="black")))
    annotations.append(dict(text="t", xref="paper", yref="paper",
                            x=(RT_X[c] + 3.5) / W, y=1 - (ymid - 10.5) / H,
                            xanchor="center", yanchor="middle", textangle=-90,
                            showarrow=False, font=dict(family=FAMILY, size=10, color="black")))

layout["shapes"] = shapes
layout["annotations"] = annotations
fig.update_layout(**layout)
fig.write_html("out.html", config={"displayModeBar": False},
               post_script="document.body.style.margin='0px';document.body.style.overflow='hidden';")
